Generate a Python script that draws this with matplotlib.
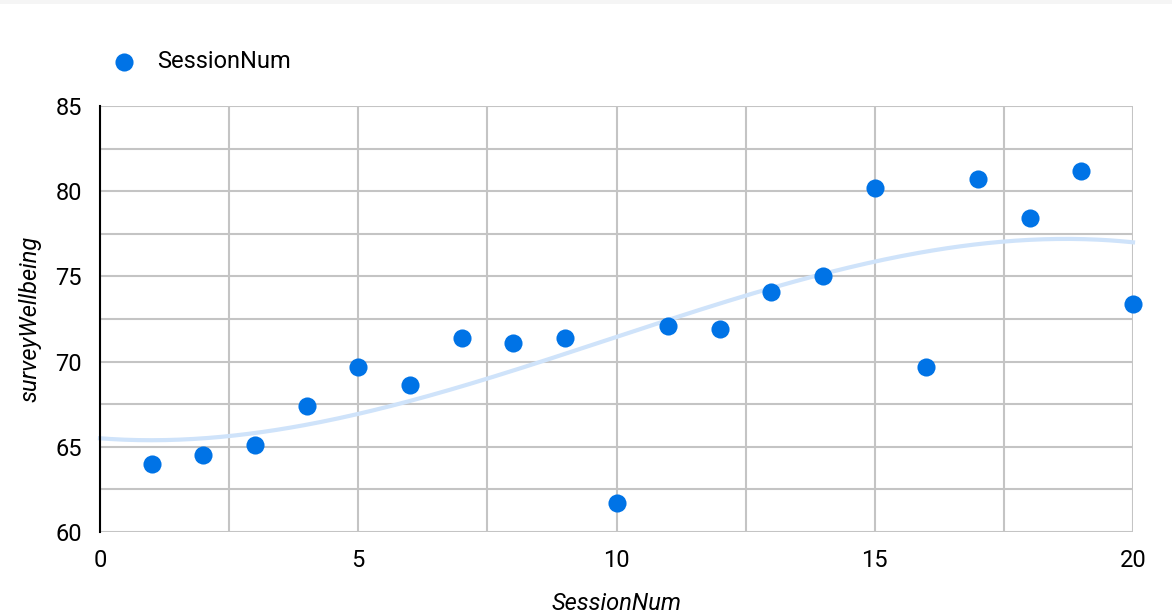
import numpy as np
from matplotlib import pyplot as plt
from matplotlib.patches import Rectangle

plt.rcParams['font.family'] = ['Roboto', 'DejaVu Sans']

session = np.arange(1, 21)
wellbeing = np.array([64.0, 64.5, 65.1, 67.4, 69.7, 68.6, 71.4, 71.1, 71.4, 61.7,
                      72.1, 71.9, 74.1, 75.0, 80.2, 69.7, 80.7, 78.4, 81.2, 73.4])

# polynomial trendline coefficients (constant, x, x^2, x^3)
trend_coef = [65.5, -0.235, 0.1255, -0.00425]

xt = np.linspace(0, 20, 300)
yt = np.polynomial.polynomial.polyval(xt, trend_coef)

fig = plt.figure(figsize=(11.72, 6.16), dpi=100)
ax = fig.add_axes([100/1172, 84/616, 1033/1172, 426/616])

# faint strip along the top edge
fig.patches.append(Rectangle((0, 1 - 4/616), 1, 4/616, transform=fig.transFigure,
                             color="#f5f5f5", lw=0))

grid_c = "#c4c4c4"
fs = 17
ax.set_xlim(0, 20)
ax.set_ylim(60, 85)
ax.set_xticks([0, 5, 10, 15, 20])
ax.set_yticks([60, 65, 70, 75, 80, 85])
ax.set_xticks(np.arange(0, 20.1, 2.5), minor=True)
ax.set_yticks(np.arange(60, 85.1, 2.5), minor=True)
ax.grid(which="both", color=grid_c, lw=1.5, zorder=0)
ax.tick_params(which="both", length=0, labelsize=fs)
ax.tick_params(axis="x", pad=12)
ax.tick_params(axis="y", pad=13)
for s in ["top", "right", "bottom"]:
    ax.spines[s].set_visible(False)
ax.spines["left"].set_color("black")
ax.spines["left"].set_linewidth(1.5)
ax.spines["left"].set_zorder(3)

ax.plot(xt, yt, color="#cfe3fa", lw=3, zorder=2, clip_on=False)
ax.scatter(session, wellbeing, s=170, color="#0073e6", zorder=4,
           clip_on=False, linewidths=0, label="SessionNum")

ax.set_xlabel("SessionNum", fontsize=fs, style="italic", labelpad=15)
ax.set_ylabel("surveyWellbeing", fontsize=fs, style="italic", labelpad=10)

fig.legend(loc="center left", bbox_to_anchor=(91/1172, 1 - 62/616), frameon=False,
           fontsize=fs, handletextpad=0.4, markerscale=1.0, borderaxespad=0)

fig.savefig("out.png", dpi=100)
